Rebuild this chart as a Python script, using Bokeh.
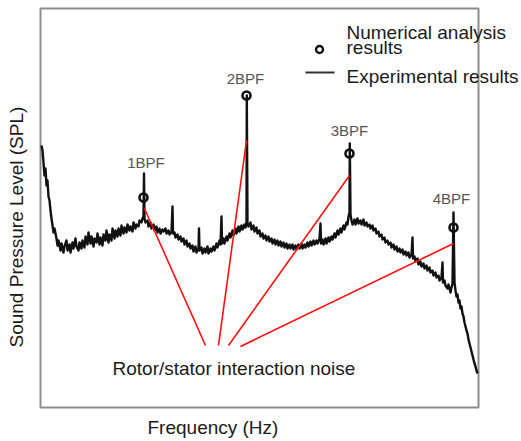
import math
from bokeh.plotting import figure
from bokeh.models import Label, Range1d
from bokeh.embed import file_html
from bokeh.resources import INLINE

# ---- data (arbitrary units) ----
freq = [
    1, 2, 3, 4, 5, 6, 7, 8, 9, 10,
    11, 12, 13, 14, 16, 17, 18, 20, 21, 23,
    24, 26, 27, 29, 30, 32, 33, 35, 36, 38,
    39, 41, 42, 44, 45, 47, 48, 50, 51, 53,
    54, 56, 57, 59, 60, 62, 63, 65, 66, 68,
    69, 71, 72, 74, 75, 77, 78, 80, 81, 83,
    84, 86, 87, 89, 90, 92, 93, 95, 96, 98,
    99, 101, 102, 103, 103.5, 104, 105, 107, 108, 110,
    111, 113, 114, 116, 117, 119, 120, 122, 123, 125,
    126, 128, 129, 131, 132, 132.5, 134, 135, 137, 138,
    140, 141, 143, 144, 146, 147, 149, 150, 152, 153,
    155, 156, 158, 158.5, 159, 161, 162, 164, 165, 167,
    168, 170, 171, 173, 174, 176, 177, 179, 180, 181,
    181.5, 183, 184, 186, 187, 189, 190, 192, 193, 195,
    196, 198, 199, 201, 202, 204, 205, 206, 206.3, 207,
    208, 210, 211, 213, 214, 216, 217, 219, 220, 222,
    223, 225, 226, 228, 229, 231, 232, 234, 235, 237,
    238, 240, 241, 243, 244, 246, 247, 249, 250, 252,
    253, 255, 256, 258, 259, 261, 262, 264, 265, 267,
    268, 270, 271, 273, 274, 276, 277, 279, 280, 280.5,
    282, 283, 285, 286, 288, 289, 291, 292, 294, 295,
    297, 298, 300, 301, 303, 304, 306, 307, 308, 309,
    309.3, 310, 311, 312, 314, 315, 317, 318, 320, 321,
    323, 324, 326, 327, 329, 330, 332, 333, 335, 336,
    338, 339, 341, 342, 344, 345, 347, 348, 350, 351,
    353, 354, 356, 357, 359, 360, 362, 363, 365, 366,
    368, 369, 371, 372, 372.5, 374, 375, 377, 378, 380,
    381, 383, 384, 386, 387, 389, 390, 392, 393, 395,
    396, 398, 399, 401, 402, 402.5, 404, 405, 407, 408,
    410, 411, 412, 413, 414, 415, 416, 417, 418, 419,
    420, 421, 422, 423, 424, 425, 426, 427, 428, 429,
    430, 431, 432, 433, 434, 435, 436, 437,
]
spl = [
    262, 257, 245, 232, 239, 222, 227, 211, 207, 197,
    189, 182, 175, 179, 169, 162, 167, 157, 164, 155,
    161, 167, 157, 163, 155, 165, 159, 169, 161, 157,
    165, 159, 167, 160, 171, 163, 175, 164, 171, 161,
    169, 165, 174, 163, 170, 162, 173, 167, 177, 165,
    173, 167, 179, 169, 177, 171, 179, 172, 182, 174,
    180, 175, 183, 177, 181, 176, 185, 179, 183, 181,
    187, 185, 189, 191, 234, 189, 185, 187, 181, 185,
    179, 183, 177, 181, 175, 179, 174, 178, 176, 179,
    174, 177, 173, 176, 201, 174, 175, 170, 173, 168,
    171, 166, 169, 163, 167, 161, 164, 159, 162, 156,
    161, 155, 159, 179, 157, 160, 154, 159, 155, 161,
    154, 159, 156, 161, 157, 164, 160, 167, 163, 191,
    164, 169, 164, 171, 167, 174, 170, 177, 172, 179,
    174, 181, 176, 182, 178, 183, 180, 185, 312, 183,
    181, 185, 178, 182, 176, 180, 174, 177, 171, 174,
    169, 172, 167, 171, 166, 169, 164, 168, 163, 167,
    162, 166, 161, 165, 160, 164, 159, 163, 159, 163,
    158, 162, 158, 163, 159, 164, 159, 163, 160, 165,
    161, 166, 162, 167, 163, 167, 164, 169, 184, 164,
    168, 163, 169, 164, 170, 166, 171, 168, 174, 170,
    177, 173, 179, 175, 182, 178, 185, 183, 191, 195,
    264, 193, 187, 183, 188, 183, 189, 184, 187, 183,
    188, 182, 185, 181, 183, 179, 182, 177, 179, 174,
    176, 171, 173, 168, 170, 165, 167, 163, 165, 160,
    163, 158, 161, 156, 159, 155, 158, 153, 156, 152,
    155, 150, 153, 170, 149, 151, 146, 149, 143, 146,
    141, 144, 139, 142, 137, 140, 135, 137, 132, 135,
    130, 132, 127, 130, 145, 125, 127, 122, 119, 123,
    115, 120, 124, 195, 125, 117, 111, 113, 105, 107,
    99, 101, 94, 91, 85, 81, 77, 74, 68, 64,
    60, 56, 52, 48, 44, 41, 37, 34,
]
assert len(freq) == len(spl), (len(freq), len(spl))

bpf_freq = [103, 206, 309, 413]
bpf_spl = [210, 312, 254, 180]
bpf_labels = ["1BPF", "2BPF", "3BPF", "4BPF"]

# plotting-area extent (data units)
f_min, f_max = 0, 438
s_min, s_max = 0, 399

FONT = "Liberation Sans"

# The frame covers the whole canvas so that texts outside the plotting box are not clipped.
p = figure(width=521, height=441, x_range=Range1d(-40, 481), y_range=Range1d(-34, 407),
           output_backend="svg", toolbar_location=None,
           min_border_left=0, min_border_right=0, min_border_top=0, min_border_bottom=0)
p.xaxis.visible = False
p.yaxis.visible = False
p.grid.visible = False
p.outline_line_color = None
p.background_fill_color = "white"
p.border_fill_color = "white"

# plotting box
p.quad(left=[f_min], right=[f_max], bottom=[s_min], top=[s_max], fill_color=None,
       line_color="#8c8c8c", line_width=2)

# experimental curve
p.line(freq, spl, line_color="#111111", line_width=2.4, line_join="round")

# red annotation lines: from each BPF peak to the caption
red_x0 = [104, 206, 309, 413]
red_y0 = [199, 267, 232, 164]
red_x1 = [165, 178, 188, 200]
red_y1 = [62, 62, 62, 61]
p.segment(x0=red_x0, y0=red_y0, x1=red_x1, y1=red_y1, line_color="#ff1010", line_width=1.6)

# numerical analysis results
p.scatter(bpf_freq, bpf_spl, marker="circle", size=8, fill_color=None,
          line_color="#111111", line_width=2.6)

label_dy = [35, 17.5, 23, 29.5]
label_dx = [2.5, -1, 0, -2]
for fx, fy, t, dx, dy in zip(bpf_freq, bpf_spl, bpf_labels, label_dx, label_dy):
    p.add_layout(Label(x=fx + dx, y=fy + dy, text=t, text_font=FONT, text_font_size="15px",
                       text_color="#555555", text_align="center", text_baseline="middle"))

# legend
p.scatter([279], [358], marker="circle", size=7, fill_color=None, line_color="#111111", line_width=2.4)
p.line([265, 294], [335, 335], line_color="#333333", line_width=2)
for t, y in [("Numerical analysis", 375), ("results", 360), ("Experimental results", 331)]:
    p.add_layout(Label(x=306, y=y, text=t, text_font=FONT, text_font_size="19px",
                       text_color="#1a1a1a", text_align="left", text_baseline="alphabetic"))

# caption
p.add_layout(Label(x=72, y=39, text="Rotor/stator interaction noise", text_font=FONT,
                   text_font_size="19px", text_color="#1a1a1a", text_align="left",
                   text_baseline="alphabetic"))

# axis titles
p.add_layout(Label(x=107, y=-20, text="Frequency (Hz)", text_font=FONT,
                   text_font_size="19px", text_color="#1a1a1a", text_align="left",
                   text_baseline="alphabetic"))
p.add_layout(Label(x=-24, y=60, text="Sound Pressure Level (SPL)", text_font=FONT,
                   text_font_size="19px", text_color="#1a1a1a", text_align="left",
                   text_baseline="alphabetic", angle=math.pi / 2))

open("out.html", "w").write(file_html(p, INLINE))
